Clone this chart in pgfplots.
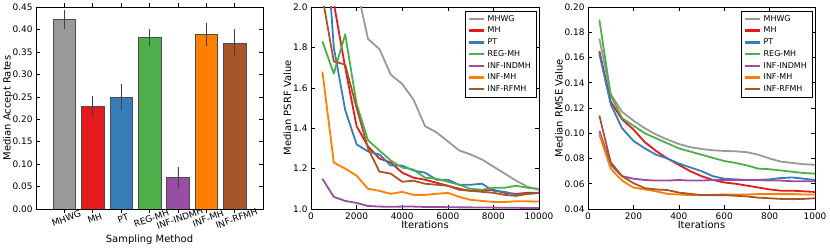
\documentclass[border=0pt]{standalone}
\usepackage{fontspec}
\setmainfont{DejaVu Sans}
\usepackage{pgfplots}
\pgfplotsset{compat=1.18}
\definecolor{cgray}{HTML}{999999}
\definecolor{cred}{HTML}{E41A1C}
\definecolor{cblue}{HTML}{377EB8}
\definecolor{cgreen}{HTML}{4DAF4A}
\definecolor{cpurple}{HTML}{984EA3}
\definecolor{corange}{HTML}{FF7F00}
\definecolor{cbrown}{HTML}{A65628}
\pgfplotsset{
  base/.style={scale only axis, height=202bp,
    axis line style={line width=0.6bp},
    tick style={black, line width=0.5bp}, major tick length=4bp,
    tick align=inside, tick pos=both,
    ticklabel style={font=\fontsize{9}{10}\selectfont},
    label style={font=\fontsize{10}{12}\selectfont},
    ylabel shift=-5bp,
    /pgf/number format/assume math mode=true,
    /pgf/number format/1000 sep={},
    scaled ticks=false},
  ln/.style={line width=1.8bp, line join=round},
  leg/.style={legend style={draw=black, line width=0.5bp, at={(1,1)}, xshift=-3bp, yshift=-4bp, anchor=north east,
      font=\fontsize{8}{9}\selectfont, row sep=0.4bp, inner xsep=3bp, inner ysep=2bp, legend cell align=left},
    legend image code/.code={\draw[##1, line width=2.4bp] (0bp,0bp) -- (15bp,0bp);}},
}
\begin{document}
\begin{tikzpicture}
\useasboundingbox (0,0) rectangle (830bp,249bp);
% Panel 1
\begin{axis}[base, at={(36bp,40bp)}, width=227bp, ylabel shift=-7bp,
  xmin=-1, xmax=7, ymin=0, ymax=0.45,
  ytick={0,0.05,0.10,0.15,0.20,0.25,0.30,0.35,0.40,0.45},
  yticklabel style={/pgf/number format/.cd, fixed, fixed zerofill, precision=2},
  xtick={0,1,2,3,4,5,6},
  xticklabels={MHWG,MH,PT,REG-MH,INF-INDMH,INF-MH,INF-RFMH},
  xticklabel style={rotate=20, anchor=north, yshift=1bp},
  ylabel={Median Accept Rates}, xlabel={Sampling Method},
  ybar, bar width=0.8, bar shift=0pt,
  error bars/y dir=both, error bars/y explicit,
  error bars/error mark=none,
  error bars/error bar style={black!75, line width=0.6bp},
  every axis plot/.append style={draw=black!70, line width=0.5bp},
  xlabel style={yshift=3bp}]
\addplot[fill=cgray] coordinates {(0,0.423) +- (0,0.021)};
\addplot[fill=cred] coordinates {(1,0.229) +- (0,0.023)};
\addplot[fill=cblue] coordinates {(2,0.250) +- (0,0.029)};
\addplot[fill=cgreen] coordinates {(3,0.382) +- (0,0.018)};
\addplot[fill=cpurple] coordinates {(4,0.070) +- (0,0.024)};
\addplot[fill=corange] coordinates {(5,0.389) +- (0,0.026)};
\addplot[fill=cbrown] coordinates {(6,0.370) +- (0,0.031)};
\end{axis}
% Panel 2
\begin{axis}[base, leg, at={(311bp,40bp)}, width=228bp,
  xmin=0, xmax=10000, ymin=1.0, ymax=2.0,
  xtick={0,2000,4000,6000,8000,10000},
  ytick={1.0,1.2,1.4,1.6,1.8,2.0},
  yticklabel style={/pgf/number format/.cd, fixed, fixed zerofill, precision=1},
  ylabel={Median PSRF Value}, xlabel={Iterations},
  xlabel style={yshift=5bp}]
\addplot[ln, cgray] coordinates {(500,3.5) (1000,3.0) (1500,2.5) (2000,2.1) (2500,1.842) (3000,1.792) (3500,1.665) (4000,1.619) (4500,1.541) (5000,1.41) (5500,1.38) (6000,1.335) (6500,1.29) (7000,1.27) (7500,1.245) (8000,1.21) (8500,1.175) (9000,1.14) (9500,1.11) (10000,1.095)};
\addlegendentry{MHWG}
\addplot[ln, cred] coordinates {(500,2.6) (1000,2.02) (1500,1.70) (2000,1.41) (2500,1.31) (3000,1.25) (3500,1.23) (4000,1.18) (4500,1.155) (5000,1.145) (5500,1.13) (6000,1.115) (6500,1.10) (7000,1.09) (7500,1.09) (8000,1.095) (8500,1.08) (9000,1.075) (9500,1.08) (10000,1.08)};
\addlegendentry{MH}
\addplot[ln, cblue] coordinates {(500,2.6) (1000,1.80) (1500,1.49) (2000,1.32) (2500,1.285) (3000,1.27) (3500,1.215) (4000,1.215) (4500,1.19) (5000,1.18) (5500,1.145) (6000,1.145) (6500,1.12) (7000,1.12) (7500,1.125) (8000,1.09) (8500,1.085) (9000,1.07) (9500,1.075) (10000,1.08)};
\addlegendentry{PT}
\addplot[ln, cgreen] coordinates {(500,1.83) (1000,1.67) (1500,1.865) (2000,1.52) (2500,1.34) (3000,1.29) (3500,1.24) (4000,1.205) (4500,1.195) (5000,1.155) (5500,1.15) (6000,1.135) (6500,1.12) (7000,1.10) (7500,1.095) (8000,1.105) (8500,1.105) (9000,1.115) (9500,1.105) (10000,1.10)};
\addlegendentry{REG-MH}
\addplot[ln, cpurple] coordinates {(500,1.15) (1000,1.06) (1500,1.04) (2000,1.03) (2500,1.015) (3000,1.012) (3500,1.011) (4000,1.012) (4500,1.012) (5000,1.01) (5500,1.01) (6000,1.009) (6500,1.008) (7000,1.008) (7500,1.007) (8000,1.007) (8500,1.006) (9000,1.006) (9500,1.005) (10000,1.005)};
\addlegendentry{INF-INDMH}
\addplot[ln, corange] coordinates {(500,1.68) (1000,1.23) (1500,1.20) (2000,1.165) (2500,1.10) (3000,1.09) (3500,1.075) (4000,1.085) (4500,1.07) (5000,1.07) (5500,1.075) (6000,1.08) (6500,1.06) (7000,1.045) (7500,1.04) (8000,1.035) (8500,1.035) (9000,1.038) (9500,1.038) (10000,1.037)};
\addlegendentry{INF-MH}
\addplot[ln, cbrown] coordinates {(500,2.05) (1000,1.73) (1500,1.715) (2000,1.50) (2500,1.30) (3000,1.185) (3500,1.175) (4000,1.135) (4500,1.14) (5000,1.125) (5500,1.12) (6000,1.115) (6500,1.095) (7000,1.09) (7500,1.085) (8000,1.08) (8500,1.07) (9000,1.065) (9500,1.075) (10000,1.08)};
\addlegendentry{INF-RFMH}
\addplot[black, dashed, line width=0.8bp, forget plot] coordinates {(0,1.0) (10000,1.0)};
\end{axis}
% Panel 3
\begin{axis}[base, leg, at={(588bp,40bp)}, width=227bp,
  xmin=0, xmax=1000, ymin=0.04, ymax=0.20,
  xtick={0,200,400,600,800,1000},
  ytick={0.04,0.06,0.08,0.10,0.12,0.14,0.16,0.18,0.20},
  yticklabel style={/pgf/number format/.cd, fixed, fixed zerofill, precision=2},
  ylabel={Median RMSE Value}, xlabel={Iterations},
  xlabel style={yshift=5bp}]
\addplot[ln, cgray] coordinates {(50,0.175) (100,0.131) (150,0.117) (200,0.110) (250,0.104) (300,0.099) (350,0.095) (400,0.0915) (450,0.089) (500,0.0875) (550,0.0865) (600,0.086) (650,0.0857) (700,0.085) (750,0.083) (800,0.080) (850,0.0775) (900,0.0765) (950,0.0755) (1000,0.075)};
\addlegendentry{MHWG}
\addplot[ln, cred] coordinates {(50,0.165) (100,0.125) (150,0.111) (200,0.103) (250,0.093) (300,0.086) (350,0.080) (400,0.075) (450,0.070) (500,0.066) (550,0.063) (600,0.061) (650,0.060) (700,0.0585) (750,0.057) (800,0.0555) (850,0.0545) (900,0.0545) (950,0.054) (1000,0.0535)};
\addlegendentry{MH}
\addplot[ln, cblue] coordinates {(50,0.163) (100,0.123) (150,0.104) (200,0.094) (250,0.088) (300,0.083) (350,0.080) (400,0.076) (450,0.073) (500,0.070) (550,0.066) (600,0.064) (650,0.0635) (700,0.063) (750,0.063) (800,0.0635) (850,0.0645) (900,0.065) (950,0.064) (1000,0.063)};
\addlegendentry{PT}
\addplot[ln, cgreen] coordinates {(50,0.190) (100,0.130) (150,0.112) (200,0.106) (250,0.100) (300,0.096) (350,0.092) (400,0.088) (450,0.0855) (500,0.083) (550,0.0805) (600,0.078) (650,0.0765) (700,0.0745) (750,0.072) (800,0.0715) (850,0.0705) (900,0.0695) (950,0.0685) (1000,0.068)};
\addlegendentry{REG-MH}
\addplot[ln, cpurple] coordinates {(50,0.102) (100,0.075) (150,0.066) (200,0.064) (250,0.063) (300,0.0625) (350,0.0625) (400,0.063) (450,0.0625) (500,0.0625) (550,0.063) (600,0.063) (650,0.063) (700,0.063) (750,0.063) (800,0.0625) (850,0.0625) (900,0.062) (950,0.062) (1000,0.062)};
\addlegendentry{INF-INDMH}
\addplot[ln, corange] coordinates {(50,0.099) (100,0.072) (150,0.0625) (200,0.057) (250,0.0555) (300,0.054) (350,0.052) (400,0.0515) (450,0.051) (500,0.051) (550,0.0512) (600,0.0515) (650,0.0515) (700,0.0515) (750,0.0518) (800,0.0518) (850,0.0518) (900,0.0518) (950,0.0515) (1000,0.0515)};
\addlegendentry{INF-MH}
\addplot[ln, cbrown] coordinates {(50,0.114) (100,0.077) (150,0.066) (200,0.0605) (250,0.0565) (300,0.0555) (350,0.055) (400,0.053) (450,0.052) (500,0.051) (550,0.051) (600,0.051) (650,0.0505) (700,0.050) (750,0.049) (800,0.0485) (850,0.048) (900,0.0478) (950,0.048) (1000,0.0485)};
\addlegendentry{INF-RFMH}
\end{axis}
\end{tikzpicture}
\end{document}
